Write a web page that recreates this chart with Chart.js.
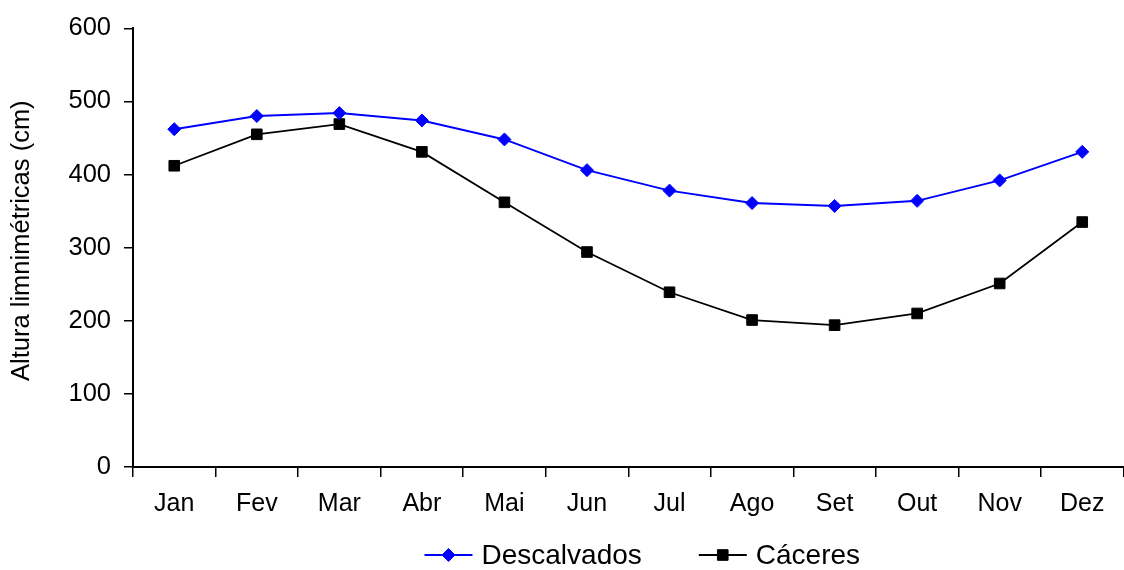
<!DOCTYPE html>
<html>
<head>
<meta charset="utf-8">
<script src="https://cdn.jsdelivr.net/npm/chart.js@4"></script>
<style>
  html, body { margin: 0; padding: 0; background: #fff; overflow: hidden; }
  #wrap { width: 1132px; height: 570px; position: relative; }
</style>
</head>
<body>
<div id="wrap"><canvas id="chart"></canvas></div>
<script>
// Monthly mean water level (cm) at two gauging stations
const months = ['Jan', 'Fev', 'Mar', 'Abr', 'Mai', 'Jun', 'Jul', 'Ago', 'Set', 'Out', 'Nov', 'Dez'];
const descalvados = [462, 480, 484, 474, 448, 406, 378, 361, 357, 364, 392, 431];
const caceres = [412, 455, 469, 431, 362, 294, 239, 201, 194, 210, 251, 335];
const yTicks = [0, 100, 200, 300, 400, 500, 600];
const yTitle = 'Altura limnimétricas (cm)';

const FONT = 'Liberation Sans, Arial, sans-serif';

// Vertical axis title, placed a little above the plot's mid-height
const axisTitle = {
  id: 'axisTitle',
  afterDraw(chart) {
    const ctx = chart.ctx;
    const area = chart.chartArea;
    ctx.save();
    ctx.font = '25.5px ' + FONT;
    ctx.fillStyle = '#000';
    ctx.textAlign = 'center';
    ctx.textBaseline = 'middle';
    ctx.translate(22, (area.top + area.bottom) / 2 - 7);
    ctx.rotate(-Math.PI / 2);
    ctx.fillText(yTitle, 0, 0);
    ctx.restore();
  }
};

// Legend drawn below the axis: line segment with marker, then label
const lineLegend = {
  id: 'lineLegend',
  afterDraw(chart) {
    const ctx = chart.ctx;
    const area = chart.chartArea;
    const y = 555;
    const seg = 48, gapText = 9, gapItem = 57;
    ctx.save();
    ctx.font = '28px ' + FONT;
    ctx.textBaseline = 'middle';
    const items = chart.data.datasets.map(ds => ({
      ds, w: seg + gapText + ctx.measureText(ds.label).width
    }));
    const total = items.reduce((s, it) => s + it.w, 0) + gapItem * (items.length - 1);
    let x = (area.left + area.right) / 2 - total / 2 + 14;
    items.forEach(it => {
      const ds = it.ds;
      ctx.strokeStyle = ds.borderColor;
      ctx.lineWidth = ds.borderWidth;
      ctx.beginPath();
      ctx.moveTo(x, y);
      ctx.lineTo(x + seg, y);
      ctx.stroke();
      ctx.fillStyle = ds.pointBackgroundColor;
      ctx.strokeStyle = ds.pointBorderColor;
      ctx.lineWidth = 1;
      Chart.helpers.drawPoint(ctx, {
        pointStyle: ds.pointStyle,
        radius: ds.pointRadius,
        borderWidth: 1
      }, x + seg / 2, y);
      ctx.fillStyle = '#000';
      ctx.fillText(ds.label, x + seg + gapText, y + 1);
      x += it.w + gapItem;
    });
    ctx.restore();
  }
};

new Chart(document.getElementById('chart'), {
  type: 'line',
  data: {
    labels: months,
    datasets: [
      {
        label: 'Descalvados',
        data: descalvados,
        borderColor: '#0000ff',
        backgroundColor: '#0000ff',
        pointBackgroundColor: '#0000ff',
        pointBorderColor: '#0000ff',
        borderWidth: 2,
        pointStyle: 'rectRot',
        pointRadius: 6.5,
        pointBorderWidth: 1,
        tension: 0
      },
      {
        label: 'Cáceres',
        data: caceres,
        borderColor: '#000000',
        backgroundColor: '#000000',
        pointBackgroundColor: '#000000',
        pointBorderColor: '#000000',
        borderWidth: 1.8,
        pointStyle: 'rect',
        pointRadius: 7.5,
        pointBorderWidth: 1,
        tension: 0
      }
    ]
  },
  options: {
    responsive: true,
    maintainAspectRatio: false,
    animation: false,
    layout: { padding: { top: 25, right: 0, bottom: 0, left: 0 } },
    plugins: {
      legend: { display: false },
      tooltip: { enabled: false }
    },
    scales: {
      x: {
        type: 'category',
        offset: true,
        grid: { display: true, drawOnChartArea: false, offset: true, tickLength: 10, color: '#000', lineWidth: 1.5 },
        border: { display: true, color: '#000', width: 2 },
        ticks: { color: '#000', font: { family: FONT, size: 25 }, padding: 12, maxRotation: 0, autoSkip: false },
        afterFit(scale) { scale.height = 103; }
      },
      y: {
        min: 0,
        max: 600,
        afterBuildTicks(scale) { scale.ticks = yTicks.map(v => ({ value: v })); },
        grid: { display: true, drawOnChartArea: false, tickLength: 9, color: '#000', lineWidth: 1.5 },
        border: { display: true, color: '#000', width: 2 },
        ticks: { color: '#000', font: { family: FONT, size: 25.5 }, padding: 13 },
        afterFit(scale) { scale.width = 133; }
      }
    }
  },
  plugins: [lineLegend, axisTitle]
});
</script>
</body>
</html>
